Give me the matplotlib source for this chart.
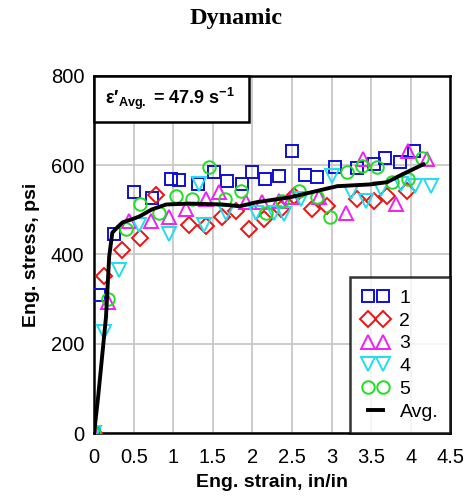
import matplotlib
matplotlib.use("Agg")
import matplotlib.pyplot as plt
from matplotlib.patches import Rectangle

# series 1 (blue squares)
s1_x = [0.0, 0.06, 0.25, 0.5, 0.73, 0.97, 1.07, 1.31, 1.51, 1.68, 1.87, 2.0, 2.16, 2.33, 2.5, 2.66, 2.81, 3.04, 3.32, 3.53, 3.68, 3.86, 4.04]
s1_y = [0, 310, 447, 539, 526, 568, 566, 557, 584, 564, 557, 584, 569, 575, 631, 578, 573, 595, 593, 602, 616, 607, 631]
# series 2 (red diamonds)
s2_x = [0.0, 0.13, 0.35, 0.58, 0.78, 1.2, 1.41, 1.62, 1.79, 1.96, 2.14, 2.36, 2.52, 2.75, 2.94, 3.32, 3.53, 3.70, 3.95]
s2_y = [0, 351, 411, 436, 533, 467, 463, 483, 497, 456, 479, 501, 530, 501, 508, 524, 519, 530, 542]
# series 3 (magenta triangles)
s3_x = [0.0, 0.17, 0.44, 0.72, 0.95, 1.16, 1.41, 1.58, 1.92, 2.12, 2.33, 2.5, 2.84, 3.18, 3.40, 3.81, 3.97, 4.21]
s3_y = [0, 294, 474, 474, 485, 501, 524, 539, 517, 517, 519, 528, 528, 494, 613, 512, 631, 613]
# series 4 (cyan inverted triangles)
s4_x = [0.0, 0.13, 0.32, 0.57, 0.95, 1.32, 1.39, 1.66, 2.04, 2.27, 2.4, 2.61, 3.0, 3.24, 3.43, 3.62, 3.88, 4.06, 4.25]
s4_y = [0, 227, 366, 467, 445, 557, 467, 494, 494, 494, 490, 524, 575, 539, 519, 546, 557, 553, 553]
# series 5 (green circles)
s5_x = [0.0, 0.17, 0.4, 0.58, 0.82, 1.03, 1.24, 1.45, 1.65, 1.85, 2.17, 2.37, 2.59, 2.82, 2.98, 3.19, 3.38, 3.57, 3.76, 3.97, 4.14]
s5_y = [0, 301, 458, 512, 494, 530, 524, 595, 524, 542, 494, 519, 542, 528, 485, 584, 598, 595, 562, 569, 616]
# average curve
avg_x = [0, 0.05, 0.10, 0.15, 0.19, 0.23, 0.3, 0.36, 0.48, 0.57, 0.73, 0.91, 1.2, 1.62, 1.84, 2.05, 2.47, 2.64, 3.07, 3.49, 3.70, 3.90, 4.16]
avg_y = [0, 80, 170, 260, 395, 449, 462, 472, 479, 485, 501, 512, 514, 512, 508, 517, 528, 535, 553, 557, 562, 580, 602]

xtick_labels = ['0', '0.5', '1', '1.5', '2', '2.5', '3', '3.5', '4', '4.5']

plt.rcParams['font.family'] = ['Liberation Sans', 'DejaVu Sans']
plt.rcParams['mathtext.fontset'] = 'custom'
plt.rcParams['mathtext.rm'] = 'Liberation Sans:bold'
plt.rcParams['mathtext.it'] = 'Liberation Sans:bold'
plt.rcParams['mathtext.bf'] = 'Liberation Sans:bold'

fig = plt.figure(figsize=(4.73, 4.98), dpi=100)
ax = fig.add_axes([0.199, 0.1305, 0.753, 0.717])

ms = 9
mew = 1.4
ax.plot(s1_x, s1_y, 's', ms=ms, mfc='none', mec='#1010d0', mew=mew, label='1', zorder=3)
ax.plot(s2_x, s2_y, 'D', ms=ms * 0.85, mfc='none', mec='#ee1111', mew=mew, label='2', zorder=3)
ax.plot(s3_x, s3_y, '^', ms=ms * 1.1, mfc='none', mec='#ee22ee', mew=mew, label='3', zorder=3)
ax.plot(s4_x, s4_y, 'v', ms=ms * 1.1, mfc='none', mec='#22ddee', mew=mew, label='4', zorder=3)
ax.plot(s5_x, s5_y, 'o', ms=ms, mfc='none', mec='#22dd22', mew=mew, label='5', zorder=3)
ax.plot(avg_x, avg_y, '-', color='black', lw=2.8, label='Avg.', zorder=4)

ax.set_xlim(0, 4.5)
ax.set_ylim(0, 800)
ax.set_xticks([0, 0.5, 1, 1.5, 2, 2.5, 3, 3.5, 4, 4.5])
ax.set_xticklabels(xtick_labels)
ax.set_yticks([0, 200, 400, 600, 800])
ax.tick_params(length=0, labelsize=14.5)
ax.tick_params(axis='x', pad=11)
ax.tick_params(axis='y', pad=7)
ax.grid(True, color='#c8c8c8', lw=1.3)
ax.set_axisbelow(True)
for sp in ax.spines.values():
    sp.set_linewidth(1.8)

ax.set_xlabel('Eng. strain, in/in', fontsize=14, fontweight='bold', labelpad=5)
ax.set_ylabel('Eng. stress, psi', fontsize=14, fontweight='bold', labelpad=8)

# strain-rate box in the top-left corner
box = Rectangle((0, 1 - 0.128), 0.435, 0.128, transform=ax.transAxes, fc='white',
                ec='black', lw=1.8, zorder=5, clip_on=False)
ax.add_patch(box)
ax.text(0.03, 1 - 0.064, "\u03b5\u2032$_{Avg.}$ = 47.9 s$^{-1}$", transform=ax.transAxes,
        fontsize=13, fontweight='bold', va='center', ha='left', zorder=6)

leg = ax.legend(loc='lower right', numpoints=2, fontsize=14, frameon=True, fancybox=False,
                edgecolor='black', borderaxespad=0, handlelength=1.37, handletextpad=0.55,
                labelspacing=0.27, borderpad=0.62)
leg.get_frame().set_linewidth(1.8)
leg.set_zorder(6)

fig.text(0.5, 0.962, 'Dynamic', ha='center', va='center', fontsize=17.5, fontweight='bold',
         family=['Liberation Serif', 'DejaVu Serif'])

fig.savefig('out.png', dpi=100)
